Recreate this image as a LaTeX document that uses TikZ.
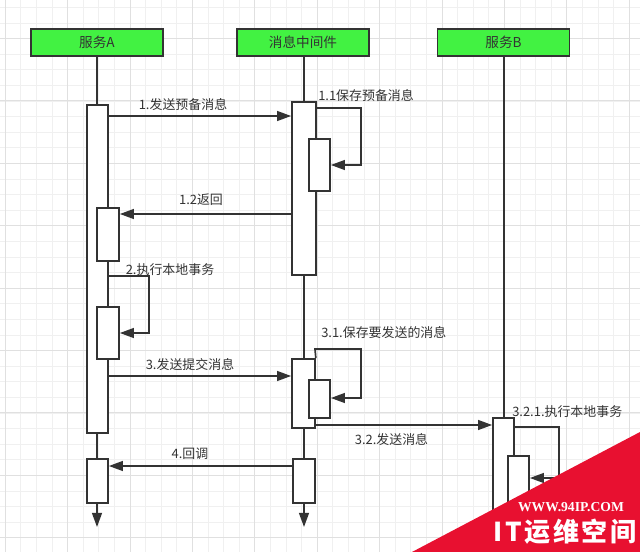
\documentclass[tikz,border=0pt]{standalone}
\usepackage{fontspec}
\setmainfont{Noto Sans CJK SC}
\newfontfamily\wmserif{Liberation Serif}
\usetikzlibrary{arrows.meta}

\definecolor{gridminor}{HTML}{F0F0F0}
\definecolor{gridmajor}{HTML}{E0E0E0}
\definecolor{hdrgreen}{HTML}{42F242}
\definecolor{ink}{HTML}{333333}
\definecolor{wmred}{HTML}{E81030}

\tikzset{
  hdr/.style={draw=ink, fill=hdrgreen, line width=1.3pt, inner sep=0pt,
    minimum width=132*0.025cm, minimum height=27*0.025cm,
    text=ink, font=\fontsize{9.7}{11}\selectfont},
  act/.style 2 args={draw=ink, fill=white, line width=1.2pt, inner sep=0pt,
    minimum width=#1*0.025cm, minimum height=#2*0.025cm},
  life/.style={draw=ink, line width=1.2pt},
  msg/.style={draw=ink, line width=1.2pt, -{Triangle[length=10pt,width=7pt]}},
  lbl/.style={text=ink, inner sep=0pt, font=\fontsize{9.2}{11}\selectfont},
}

\begin{document}
\begin{tikzpicture}[x=0.025cm, y=-0.025cm]
  \useasboundingbox (0,0) rectangle (640,552);
  \fill[white] (0,0) rectangle (640,552);

  % grid
  \foreach \i in {0,...,40}
    \draw[gridminor, line width=0.5pt] ({5.2+15.6*\i},0) -- ++(0,552);
  \foreach \i in {0,...,35}
    \draw[gridminor, line width=0.5pt] (0,{7.3+15.6*\i}) -- ++(640,0);
  \foreach \i in {0,...,10}
    \draw[gridmajor, line width=0.6pt] ({5.2+62.4*\i},0) -- ++(0,552);
  \foreach \i in {0,...,8}
    \draw[gridmajor, line width=0.6pt] (0,{38.5+62.4*\i}) -- ++(640,0);

  % participants
  \node[hdr] (hA) at (97,42.5) {服务A};
  \node[hdr] (hM) at (303,42.5) {消息中间件};
  \node[hdr] (hB) at (503.5,42.5) {服务B};

  % lifelines
  \coordinate (endA) at (97,527);
  \coordinate (endM) at (304,527);
  \coordinate (endB) at (504,560);
  \draw[msg] (hA.south) -- (endA);
  \draw[msg] (hM.south -| endM) -- (endM);
  \draw[life] (hB.south -| endB) -- (endB);

  % activations
  \node[act={21}{328}] (a1) at (97.5,269) {};
  \node[act={22}{53}] (a2) at (108,234.5) {};
  \node[act={22}{52}] (a3) at (108,333) {};
  \node[act={21}{44}] (a4) at (97.5,481) {};
  \node[act={24}{173}] (m1) at (304,188.5) {};
  \node[act={21}{52}] (m2) at (319.5,165) {};
  \node[act={23}{69}] (m3) at (303.5,393.5) {};
  \node[act={21}{38}] (m4) at (319.5,399) {};
  \node[act={22}{44}] (m5) at (304,481) {};
  \node[act={21}{150}] (b1) at (503.5,493) {};
  \node[act={21}{110}] (b2) at (518.5,511) {};

  % messages
  \draw[msg] (a1.east |- 0,116) -- (m1.west |- 0,116);
  \draw[msg] (m1.east |- 0,108) -- (361,108) -- (361,165) -- (m2.east);
  \draw[msg] (m1.west |- 0,214) -- (a2.east |- 0,214);
  \draw[msg] (a1.east |- 0,276) -- (149,276) -- (149,333) -- (a3.east);
  \draw[msg] (a1.east |- 0,376) -- (m3.west |- 0,376);
  \draw[msg] (m3.north east) -- (315,349) -- (361,349) -- (361,398) -- (m4.east |- 0,398);
  \draw[msg] (m3.east |- 0,425) -- (b1.west |- 0,425);
  \draw[msg] (b1.east |- 0,427) -- (559,427) -- (559,478) -- (b2.east |- 0,478);
  \draw[msg] (m5.west |- 0,466) -- (a4.east |- 0,466);

  % labels
  \node[lbl] (l1) at (183,105) {1.发送预备消息};
  \node[lbl, anchor=west] (l11) at (318,96) {1.1保存预备消息};
  \node[lbl] (l12) at (201,200) {1.2返回};
  \node[lbl] (l2) at (170,270) {2.执行本地事务};
  \node[lbl] (l3) at (190,365) {3.发送提交消息};
  \node[lbl, anchor=west] (l31) at (321,333) {3.1.保存要发送的消息};
  \node[lbl] (l32) at (391.5,440) {3.2.发送消息};
  \node[lbl, anchor=west] (l321) at (512,412) {3.2.1.执行本地事务};
  \node[lbl] (l4) at (190,454) {4.回调};

  % watermark
  \fill[wmred] (412,552) -- (640,432) -- (640,552) -- cycle;
  \node[text=white, inner sep=0pt, font=\wmserif\bfseries\fontsize{9.7}{11}\selectfont] (wmurl) at (571,507) {WWW.94IP.COM};
  \node[text=white, inner sep=0pt, font=\bfseries\fontsize{18.5}{20}\selectfont\addfontfeature{LetterSpace=10}] (wmname) at (565,531.5) {IT运维空间};
\end{tikzpicture}
\end{document}
